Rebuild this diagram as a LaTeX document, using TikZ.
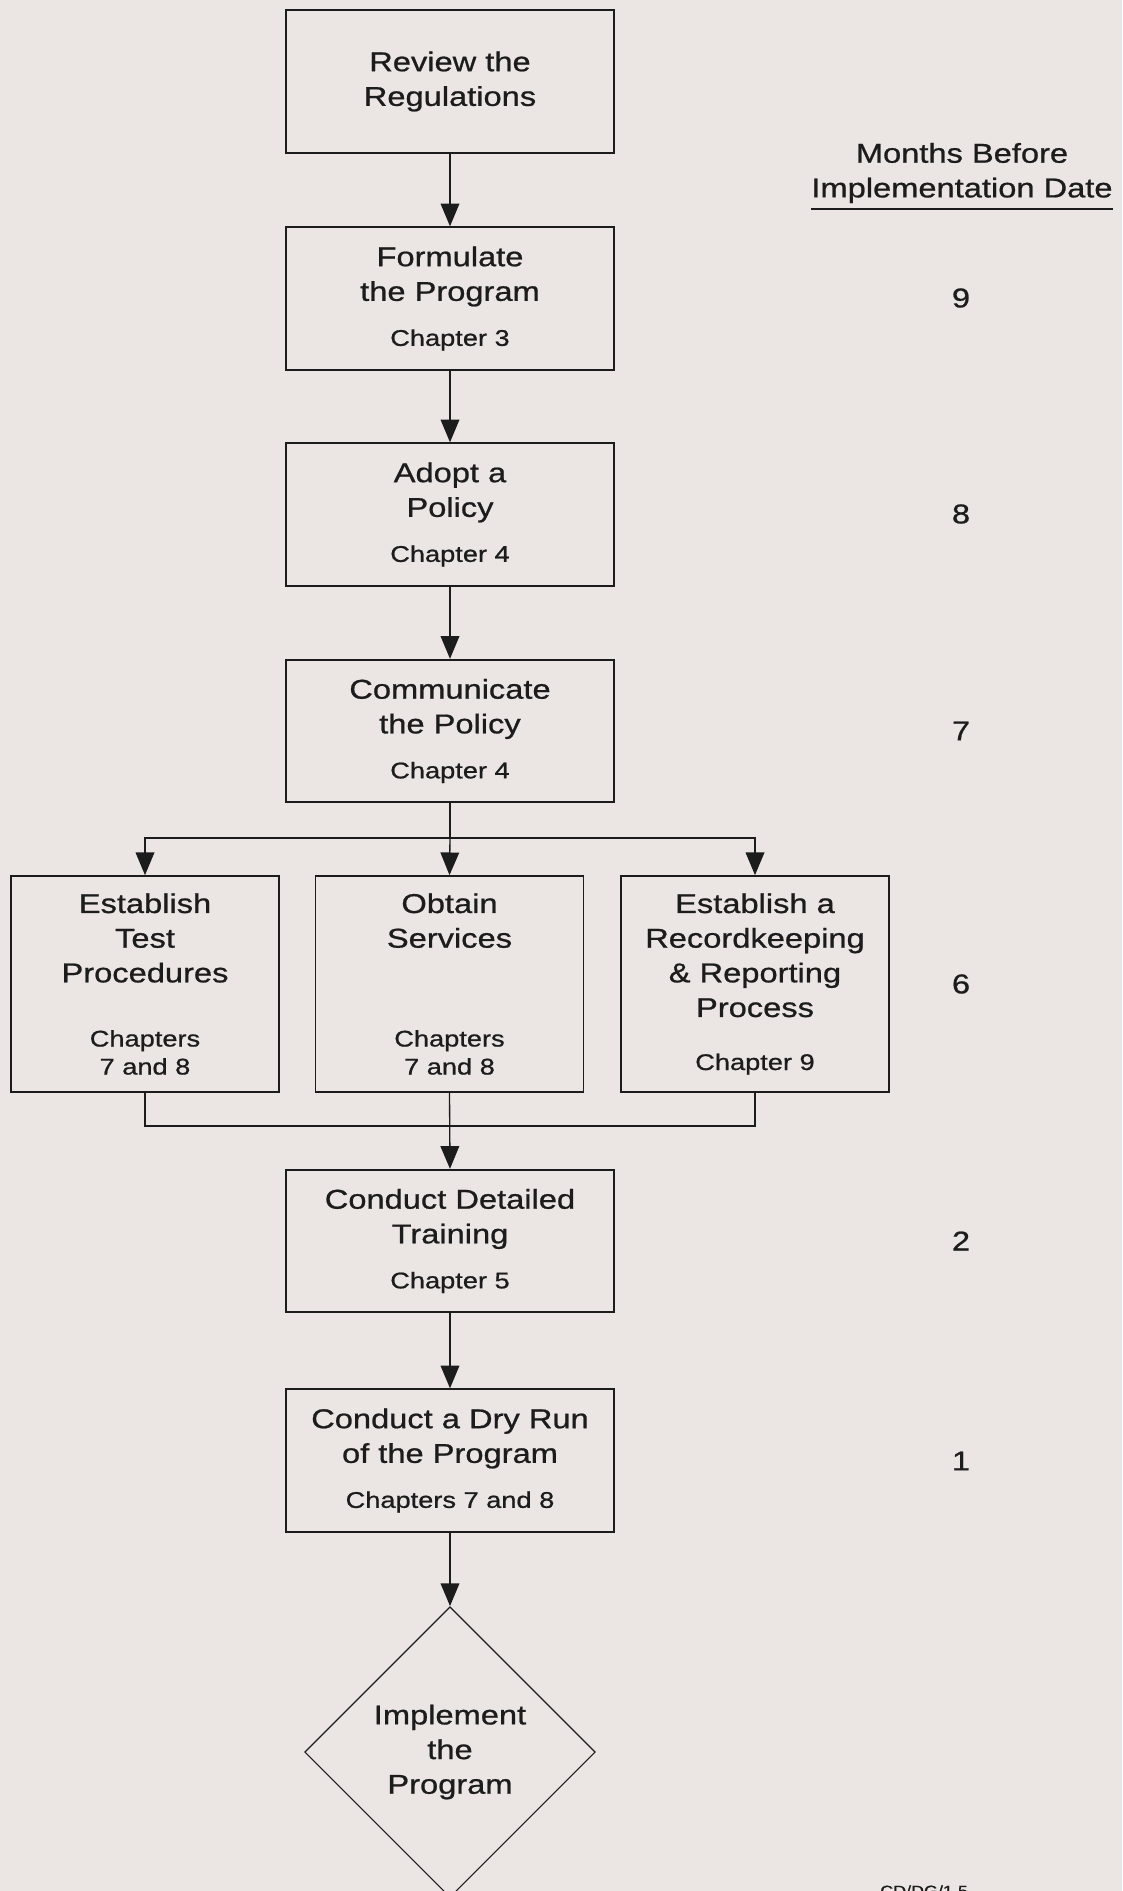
\documentclass[tikz,border=0pt]{standalone}
\usepackage{fontspec}
\setmainfont{Liberation Sans}[FakeStretch=1.2,FakeBold=0.8]
\usetikzlibrary{arrows.meta,shapes.geometric}
\definecolor{paper}{RGB}{235,230,228}
\definecolor{ink}{RGB}{28,28,28}
\newcommand\boxfont{\fontsize{20.4pt}{26pt}\selectfont}
\newcommand\chapfont{\fontsize{17pt}{21pt}\selectfont}
\newcommand\tagfont{\fontsize{11.2pt}{13pt}\selectfont}
\begin{document}
\begin{tikzpicture}[x=0.75pt,y=-0.75pt,
  every node/.style={text=ink},
  stepbox/.style={draw=ink,line width=1.3pt,minimum width=246pt,minimum height=107pt,
    inner sep=0pt,align=center,font=\boxfont},
  branchbox/.style={draw=ink,line width=1.3pt,minimum width=201pt,minimum height=162pt,inner sep=0pt},
  maintext/.style={inner sep=0pt,align=center,font=\boxfont},
  chaptext/.style={inner sep=0pt,align=center,font=\chapfont},
  month/.style={inner sep=0pt,font=\boxfont},
  link/.style={draw=ink,line width=1pt},
  arr/.style={link,-{Triangle[length=17pt,width=14pt]}}]
% page
\fill[paper] (0,0) rectangle (1122,1891);
\clip (0,0) rectangle (1122,1891);

% main column
\node[stepbox] (review) at (450,81.5) {Review the\\Regulations};
\node[stepbox] (formulate) at (450,298.5) {Formulate\\the Program\\[7.75pt]{\chapfont Chapter 3}};
\node[stepbox] (adopt) at (450,514.5) {Adopt a\\Policy\\[7.75pt]{\chapfont Chapter 4}};
\node[stepbox] (communicate) at (450,731) {Communicate\\the Policy\\[7.75pt]{\chapfont Chapter 4}};

% three parallel tasks
\node[branchbox] (tests) at (145,984) {};
\node[branchbox] (services) at (449.5,984) {};
\node[branchbox] (records) at (755,984) {};
\node[maintext,anchor=north] (testsT) at (145,893) {Establish\\Test\\Procedures};
\node[chaptext,anchor=south] (testsC) at (145,1075) {Chapters\\7 and 8};
\node[maintext,anchor=north] (servicesT) at (449.5,893) {Obtain\\Services};
\node[chaptext,anchor=south] (servicesC) at (449.5,1075) {Chapters\\7 and 8};
\node[maintext,anchor=north] (recordsT) at (755,893) {Establish a\\Recordkeeping\\\& Reporting\\Process};
\node[chaptext,anchor=base] (recordsC) at (755,1070) {Chapter 9};

\node[stepbox] (training) at (450,1241) {Conduct Detailed\\Training\\[7.75pt]{\chapfont Chapter 5}};
\node[stepbox] (dryrun) at (450,1460.5) {Conduct a Dry Run\\of the Program\\[7.75pt]{\chapfont Chapters 7 and 8}};
\node[diamond,draw=ink,line width=0.9pt,aspect=1,inner sep=0pt,minimum width=218pt,
  minimum height=218pt,align=center,font=\boxfont] (implement) at (450,1752) {Implement\\the\\Program};

% connectors
\draw[arr] (review) -- (formulate);
\draw[arr] (formulate) -- (adopt);
\draw[arr] (adopt) -- (communicate);
\coordinate (split) at (450,838);
\draw[link] (communicate) -- (split);
\draw[arr] (split) -| (tests.north);
\draw[arr] (split) -- (services.north);
\draw[arr] (split) -| (records.north);
\coordinate (merge) at (450,1126);
\draw[link] (tests.south) |- (merge);
\draw[link] (records.south) |- (merge);
\draw[arr] (services.south) -- (training.north);
\draw[arr] (training) -- (dryrun);
\draw[arr] (dryrun) -- (implement.north);

% timeline column
\node[maintext] (header) at (962,173) {Months Before\\Implementation Date};
\draw[link,line width=1.2pt] ([yshift=-4.5pt]header.south west) -- ([yshift=-4.5pt]header.south east);
\node[month] (m9) at (961,298) {9};
\node[month] (m8) at (961,514) {8};
\node[month] (m7) at (961,731) {7};
\node[month] (m6) at (961,984) {6};
\node[month] (m2) at (961,1241) {2};
\node[month] (m1) at (961,1461) {1};

% figure tag, running off the lower edge of the sheet
\node[inner sep=0pt,font=\tagfont,anchor=north west] (figtag) at (880,1885) {CD/DG/1.5};
\end{tikzpicture}
\end{document}
